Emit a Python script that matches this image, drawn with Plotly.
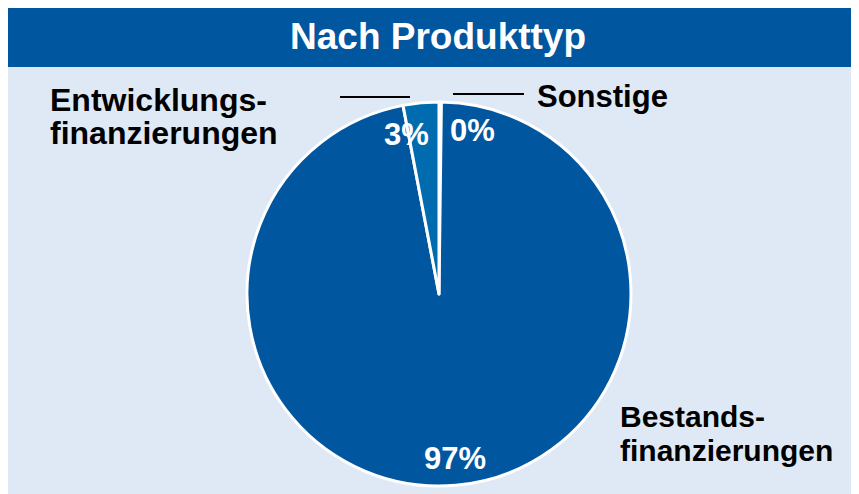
import plotly.graph_objects as go

# ── Data ────────────────────────────────────────────────────────────────────
CATEGORIES = ["Sonstige", "Bestandsfinanzierungen", "Entwicklungsfinanzierungen"]
LABEL_LINES = [["Sonstige"], ["Bestands-", "finanzierungen"], ["Entwicklungs-", "finanzierungen"]]
SHARES = [0.2, 96.8, 3.0]
COLOURS = ["#00569F", "#00569F", "#006CAF"]

W, H = 859, 494
BG = "#DFE8F5"
FONT = "Liberation Sans, Arial, sans-serif"
OFF = 8  # the page body adds an 8px margin; positions below are screen pixels


def px_x(x):
    return (x - OFF) / W


def px_y(y):
    return 1 - (y - OFF) / H


# pie centre ~ (439, 294), radius ~ 192
cx, cy, r = 439, 294, 192

fig = go.Figure(
    go.Pie(
        labels=CATEGORIES,
        values=SHARES,
        sort=False,
        direction="clockwise",
        rotation=0,
        marker=dict(colors=COLOURS, line=dict(color="white", width=3)),
        textinfo="none",
        hoverinfo="label+percent",
        showlegend=False,
        domain=dict(x=[px_x(cx - r), px_x(cx + r)], y=[px_y(cy + r), px_y(cy - r)]),
    )
)

# background panel + title bar
shapes = [
    dict(type="rect", xref="paper", yref="paper", x0=0, x1=1, y0=0, y1=px_y(67),
         fillcolor=BG, line_width=0, layer="below"),
    dict(type="rect", xref="paper", yref="paper", x0=0, x1=1, y0=px_y(67), y1=1,
         fillcolor="#00569F", line_width=0, layer="below"),
    # leader lines
    dict(type="line", xref="paper", yref="paper", x0=px_x(340), x1=px_x(410),
         y0=px_y(97), y1=px_y(97), line=dict(color="black", width=2)),
    dict(type="line", xref="paper", yref="paper", x0=px_x(453), x1=px_x(524),
         y0=px_y(94), y1=px_y(94), line=dict(color="black", width=2)),
]

pct = [f"{round(v)}%" for v in SHARES]


def label(text, x, y, size, colour="black", anchor="left"):
    return dict(text=f"<b>{text}</b>", x=px_x(x), y=px_y(y),
                xanchor=anchor, yanchor="middle",
                xref="paper", yref="paper", showarrow=False,
                font=dict(size=size, color=colour))


annotations = [
    label("Nach Produkttyp", 438, 37, 37, "white", "center"),
    # category labels
    label(LABEL_LINES[0][0], 535, 97, 31),
    label(LABEL_LINES[1][0], 618, 416, 30),
    label(LABEL_LINES[1][1], 618, 450, 30),
    label(LABEL_LINES[2][0], 48, 100, 32),
    label(LABEL_LINES[2][1], 48, 133, 32),
    # percentages
    label(pct[0], 472, 131, 31, "white", "center"),
    label(pct[1], 455, 458, 31, "white", "center"),
    label(pct[2], 406, 134, 31, "white", "center"),
]

fig.update_layout(
    width=W,
    height=H,
    margin=dict(l=0, r=0, t=0, b=0),
    paper_bgcolor="white",
    font=dict(family=FONT),
    shapes=shapes,
    annotations=annotations,
)

fig.write_html("out.html")
